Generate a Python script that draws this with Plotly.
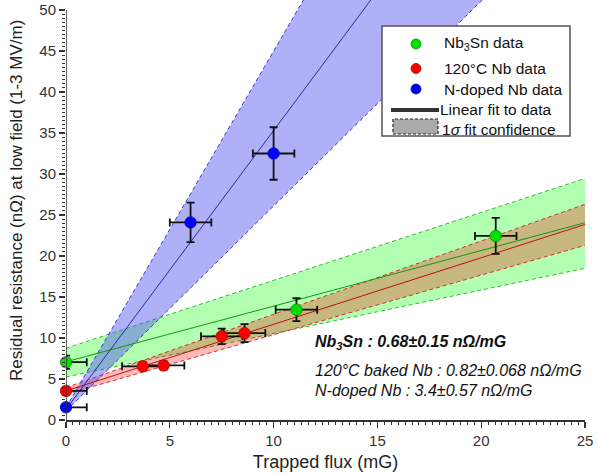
import numpy as np
import plotly.graph_objects as go

# ---------------- data ----------------
nb3sn_x = [0.0, 11.1, 20.7]
nb3sn_y = [7.05, 13.45, 22.45]
nb3sn_xerr_plus = [1.0, 1.0, 1.0]
nb3sn_xerr_minus = [0.0, 1.0, 1.0]
nb3sn_yerr = [0.8, 1.4, 2.2]

nb120_x = [0.0, 3.7, 4.7, 7.5, 8.6]
nb120_y = [3.55, 6.55, 6.65, 10.2, 10.6]
nb120_xerr_plus = [1.0, 1.0, 1.0, 1.0, 1.0]
nb120_xerr_minus = [0.0, 1.0, 1.0, 1.0, 1.0]
nb120_yerr = [0.3, 0.5, 0.5, 0.95, 1.1]

ndop_x = [0.0, 6.0, 10.0]
ndop_y = [1.55, 24.1, 32.5]
ndop_xerr_plus = [1.0, 1.0, 1.0]
ndop_xerr_minus = [0.0, 1.0, 1.0]
ndop_yerr = [0.3, 2.4, 3.2]

# linear fits and 1-sigma bands, values at x = 0 and x = 25
fit_x = [0.0, 25.0]
nb3sn_fit = [7.1, 24.06]
nb3sn_band_hi = [8.75, 29.45]
nb3sn_band_lo = [5.25, 18.5]
nb120_fit = [3.55, 23.85]
nb120_band_hi = [3.95, 26.3]
nb120_band_lo = [3.15, 21.3]
ndop_fit = [1.3, 86.3]
ndop_band_hi = [1.5, 110.2]
ndop_band_lo = [1.1, 63.6]

x_ticks = [0, 5, 10, 15, 20, 25]
y_ticks = [0, 5, 10, 15, 20, 25, 30, 35, 40, 45, 50]

# ---------------- styling ----------------
FONT = "Liberation Sans, Arial, sans-serif"
W, H = 598, 475
ML, MR, MT, MB = 66, 13, 0, 55
PW, PH = W - ML - MR, H - MT - MB


def px(xp):
    return (xp - ML) / PW


def py(yp):
    return (H - MB - yp) / PH


fig = go.Figure()


def add_band(lo, hi, fill, edge):
    fig.add_trace(go.Scatter(
        x=fit_x + fit_x[::-1], y=lo + hi[::-1], mode="lines",
        fill="toself", fillcolor=fill, line=dict(width=0),
        hoverinfo="skip", showlegend=False))
    for edge_y in (lo, hi):
        fig.add_trace(go.Scatter(
            x=fit_x, y=edge_y, mode="lines",
            line=dict(color=edge, width=1, dash="4px,3px"),
            hoverinfo="skip", showlegend=False))


add_band(nb3sn_band_lo, nb3sn_band_hi, "rgba(0,255,0,0.30)", "#33bb33")
add_band(nb120_band_lo, nb120_band_hi, "rgba(255,0,0,0.28)", "#cc3333")
add_band(ndop_band_lo, ndop_band_hi, "rgba(80,80,240,0.45)", "#3a3ad0")

for fy, col in ((nb3sn_fit, "#119911"), (nb120_fit, "#bb1111"), (ndop_fit, "#2a2aa0")):
    fig.add_trace(go.Scatter(x=fit_x, y=fy, mode="lines",
                             line=dict(color=col, width=1),
                             hoverinfo="skip", showlegend=False))


def add_points(x, y, xp, xm, ye, color, edge):
    fig.add_trace(go.Scatter(
        x=x, y=y, mode="markers", cliponaxis=False, showlegend=False,
        marker=dict(size=11.5, color=color, line=dict(color=edge, width=0.8)),
        error_x=dict(type="data", array=xp, arrayminus=xm, symmetric=False,
                     color="#111", thickness=1.8, width=4),
        error_y=dict(type="data", array=ye, color="#111", thickness=1.8, width=4)))


add_points(nb3sn_x, nb3sn_y, nb3sn_xerr_plus, nb3sn_xerr_minus, nb3sn_yerr, "#00e000", "#118811")
add_points(nb120_x, nb120_y, nb120_xerr_plus, nb120_xerr_minus, nb120_yerr, "#ff0000", "#991111")
add_points(ndop_x, ndop_y, ndop_xerr_plus, ndop_xerr_minus, ndop_yerr, "#0000ff", "#111199")

shapes = []
annotations = []

# y axis line (stops at 50)
shapes.append(dict(type="line", xref="x", yref="y", x0=0, x1=0, y0=0, y1=y_ticks[-1],
                   line=dict(color="#333", width=1.5), layer="above"))

# y axis title
annotations.append(dict(xref="paper", yref="paper", x=px(17), y=py(201),
                        xanchor="center", yanchor="middle", showarrow=False, textangle=-90,
                        text="Residual resistance (nΩ) at low field (1-3 MV/m)",
                        font=dict(size=17, color="#222", family=FONT)))

# ---- manual legend ----
LEG_FS = 15.5
shapes.append(dict(type="rect", xref="paper", yref="paper",
                   x0=px(382), x1=px(570), y0=py(136), y1=py(26),
                   fillcolor="white", line=dict(color="#555", width=1.5), layer="above"))
leg_rows = [
    ("#00e000", "#118811", 44, "Nb<sub>3</sub>Sn data"),
    ("#ff0000", "#991111", 68.5, "120°C Nb data"),
    ("#0000ff", "#111199", 89, "N-doped Nb data"),
]
for col, edge, yy, label in leg_rows:
    shapes.append(dict(type="circle", xref="paper", yref="paper",
                       xsizemode="pixel", ysizemode="pixel",
                       xanchor=px(416), yanchor=py(yy),
                       x0=-5, x1=5, y0=-5, y1=5,
                       fillcolor=col, line=dict(color=edge, width=0.8), layer="above"))
    annotations.append(dict(xref="paper", yref="paper", x=px(442), y=py(yy),
                            xanchor="left", yanchor="middle", showarrow=False,
                            text=label, font=dict(size=LEG_FS, color="#111", family=FONT)))
shapes.append(dict(type="line", xref="paper", yref="paper",
                   x0=px(391), x1=px(439), y0=py(110), y1=py(110),
                   line=dict(color="#333", width=4), layer="above"))
annotations.append(dict(xref="paper", yref="paper", x=px(438), y=py(110),
                        xanchor="left", yanchor="middle", showarrow=False,
                        text="Linear fit to data", font=dict(size=LEG_FS, color="#111", family=FONT)))
shapes.append(dict(type="rect", xref="paper", yref="paper",
                   x0=px(393), x1=px(438), y0=py(134), y1=py(119),
                   fillcolor="#aaaaaa", line=dict(color="#222", width=1.2, dash="3px,2px"),
                   layer="above"))
annotations.append(dict(xref="paper", yref="paper", x=px(440), y=py(129),
                        xanchor="left", yanchor="middle", showarrow=False,
                        text="1<i>σ</i> fit confidence", font=dict(size=LEG_FS, color="#111", family=FONT)))

# ---- slope annotations ----
ANN_FS = 16
annotations.append(dict(xref="paper", yref="paper", x=px(313), y=py(342),
                        xanchor="left", yanchor="middle", showarrow=False,
                        text="<b><i>Nb<sub>3</sub>Sn : 0.68±0.15 nΩ/mG</i></b>",
                        font=dict(size=ANN_FS, color="#111", family=FONT)))
annotations.append(dict(xref="paper", yref="paper", x=px(313), y=py(370.5),
                        xanchor="left", yanchor="middle", showarrow=False,
                        text="<i>120°C baked Nb : 0.82±0.068 nΩ/mG</i>",
                        font=dict(size=ANN_FS, color="#111", family=FONT)))
annotations.append(dict(xref="paper", yref="paper", x=px(313), y=py(390),
                        xanchor="left", yanchor="middle", showarrow=False,
                        text="<i>N-doped Nb : 3.4±0.57 nΩ/mG</i>",
                        font=dict(size=ANN_FS, color="#111", family=FONT)))

y_top = y_ticks[-1] * PH / (PH - 10)

fig.update_layout(
    width=W, height=H,
    margin=dict(l=ML, r=MR, t=MT, b=MB, pad=0),
    paper_bgcolor="white", plot_bgcolor="white",
    font=dict(family=FONT, size=15, color="#333"),
    shapes=shapes, annotations=annotations,
    showlegend=False,
    xaxis=dict(
        range=[0, 25], tickvals=x_ticks, showgrid=False, zeroline=False,
        showline=True, linecolor="#333", linewidth=1.5,
        ticks="outside", ticklen=6, tickwidth=1.3, tickcolor="#333",
        tickfont=dict(size=15, color="#333", family=FONT),
        minor=dict(tickvals=list(np.arange(0, 25.001, 1 / 3)), ticks="outside",
                   ticklen=3, tickwidth=1, tickcolor="#333"),
        title=dict(text="Trapped flux (mG)", font=dict(size=18, color="#222", family=FONT),
                   standoff=8),
    ),
    yaxis=dict(
        range=[0, y_top], tickvals=y_ticks, showgrid=False, zeroline=False,
        showline=False,
        ticks="outside", ticklen=6, tickwidth=1.3, tickcolor="#333",
        tickfont=dict(size=15, color="#333", family=FONT),
        minor=dict(tickvals=list(np.arange(0, 50.001, 0.5)), ticks="outside",
                   ticklen=3, tickwidth=1, tickcolor="#333"),
    ),
)

fig.write_html(
    "out.html",
    config={"displayModeBar": False, "staticPlot": True},
    post_script="document.body.style.margin='0px';document.body.style.overflow='hidden';",
)
